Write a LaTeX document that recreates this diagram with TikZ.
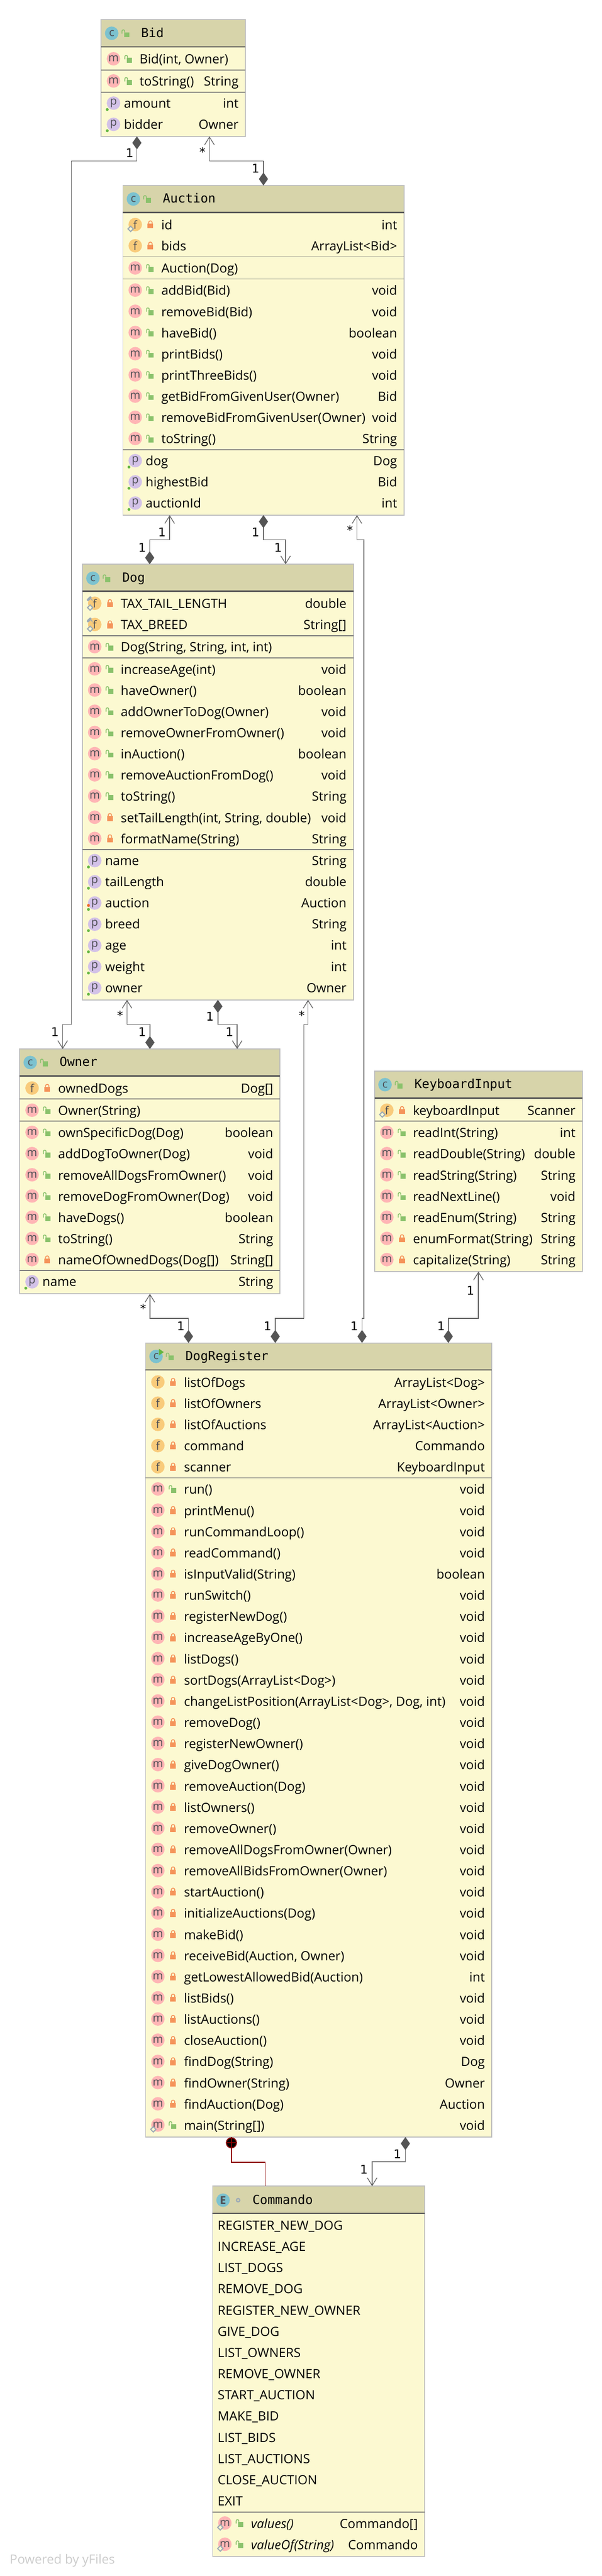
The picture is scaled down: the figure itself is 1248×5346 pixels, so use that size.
\documentclass[tikz,border=0pt]{standalone}
\usepackage{fontspec}
\usepackage{xcolor}
\usepackage{tikz}
\usetikzlibrary{arrows.meta}
\setmainfont{Open Sans}
\newfontfamily\titlefamily{DejaVu Sans Mono}
\newfontfamily\labelfamily{DejaVu Sans}
\definecolor{headfill}{RGB}{215,212,170}
\definecolor{bodyfill}{RGB}{252,249,209}
\definecolor{edgegray}{RGB}{191,191,191}
\definecolor{headrule}{RGB}{85,85,85}
\definecolor{partrule}{RGB}{120,120,120}
\definecolor{wiregray}{RGB}{102,102,102}
\definecolor{tipgray}{RGB}{85,85,85}
\definecolor{innerred}{RGB}{139,0,0}
\definecolor{iconcblue}{RGB}{124,194,207}
\definecolor{iconmpink}{RGB}{255,181,181}
\definecolor{iconfyellow}{RGB}{249,203,123}
\definecolor{iconppurple}{RGB}{211,194,232}
\definecolor{iconletter}{RGB}{78,78,84}
\definecolor{lockred}{RGB}{245,147,89}
\definecolor{lockgreen}{RGB}{138,194,108}
\definecolor{markgray}{RGB}{156,170,182}
\definecolor{dotgreen}{RGB}{98,182,64}
\definecolor{dotorange}{RGB}{242,101,34}
\definecolor{footgray}{RGB}{204,204,204}
\newcommand{\memberfont}{\fontsize{26.4}{30}\selectfont}
\newcommand{\titlefont}{\titlefamily\fontsize{26}{30}\selectfont}
\newcommand{\iconfont}{\fontsize{23}{26}\selectfont}
\newcommand{\multfont}{\labelfamily\fontsize{25}{28}\selectfont}
\newcounter{rowno}
% small marks, origin at the icon or lock centre
\newcommand{\lockpri}{\fill [lockred] (-6,-2) rectangle (6,8);
  \draw [lockred, line width=1.7pt, rounded corners=3pt] (-3.5,-1) -- (-3.5,-7.5) -- (3.5,-7.5) -- (3.5,-1);}
\newcommand{\lockpub}{\fill [lockgreen] (-3.7,-2) rectangle (7,8);
  \draw [lockgreen, line width=1.7pt, rounded corners=2.5pt] (-8,1) -- (-8,-7) -- (-2.5,-7) -- (-2.5,-2);}
\newcommand{\lockpkg}{\draw [markgray, line width=2.5pt] (2,0) circle (3.5pt);}
\newcommand{\finalmark}{\draw [markgray, line width=2.2pt, fill=bodyfill] (-9.5,3.5) -- (-4,9) -- (-9.5,14.5) -- (-15,9) -- cycle;}
\newcommand{\staticmark}{\draw [markgray, line width=5pt, line cap=round] (-14,-7) -- (-9,-12);
  \fill [markgray] (-8,-8) -- (-4,-4) -- (-6,-10) -- cycle;}
\newcommand{\greendot}{\fill [dotgreen] (-13,13.3) circle (3pt);}
\newcommand{\orangedot}{\fill [dotorange] (-13,5) circle (3pt);}
\newcommand{\runmark}{\fill [dotgreen] (6,-16) -- (16,-9) -- (6,-2) -- cycle;}
% a class: name, left, top, right, bottom, header rule
\newcommand{\classbox}[6]{
    \def\boxname{#1}\def\boxleft{#2}\def\boxright{#4}
    \pgfmathsetmacro\boxw{#4-#2}\pgfmathsetmacro\boxh{#5-#3}\pgfmathsetmacro\headh{#6-#3}
    \node [classbody, minimum width=\boxw pt, minimum height=\boxh pt] (#1) at (#2,#3) {};
    \node [classhead, minimum width=\boxw pt, minimum height=\headh pt] (#1-head) at (#2,#3) {};
    \draw [classedge] (#1.north west) rectangle (#1.south east);
    \draw [headrule] (#2,#6) -- (#4,#6);
}
\newcommand{\partrule}[1]{\draw [partrule] (\boxleft,#1) -- (\boxright,#1);}
\newcommand{\iconrow}[4][]{
    \stepcounter{rowno}
    \node [umlicon, icon#2] (\boxname-\therowno-icon) at (#3,#4) {#2};
    \begin{scope}[shift={(#3,#4)}]#1\end{scope}
}
% overlay, icon, lock, y, title
\newcommand{\classtitle}[5][]{
    \iconrow[#1]{#2}{\boxleft+21.7}{#4}
    \begin{scope}[shift={(\boxleft+51,#4)}]#3\end{scope}
    \node [classtitle] (\boxname-title) at (\boxleft+82.5,#4+8) {#5};
}
% overlay, icon, lock, y, name, type
\newcommand{\memberrow}[6][]{
    \iconrow[#1]{#2}{\boxleft+25.5}{#4}
    \begin{scope}[shift={(\boxleft+57,#4)}]#3\end{scope}
    \node [membername] (\boxname-\therowno-name) at (\boxleft+79.5,#4+10.5) {#5};
    \node [membertype] (\boxname-\therowno-type) at (\boxright-14,#4+10.5) {#6};
}
% property without lock: y, name, type
\newcommand{\proprow}[4][]{
    \iconrow[\greendot#1]{p}{\boxleft+25.5}{#2}
    \node [membername] (\boxname-\therowno-name) at (\boxleft+47,#2+9.5) {#3};
    \node [membertype] (\boxname-\therowno-type) at (\boxright-14,#2+9.5) {#4};
}
\newcommand{\enumrow}[2]{
    \stepcounter{rowno}
    \node [membername] (\boxname-\therowno-name) at (\boxleft+10.5,#1+10) {#2};
}

\begin{document}
\begin{tikzpicture}[x=1pt, y=-1pt]
    \tikzstyle{classbody} = [rectangle, anchor=north west, inner sep=0pt, outer sep=0pt, fill=bodyfill]
    \tikzstyle{classhead} = [rectangle, anchor=north west, inner sep=0pt, outer sep=0pt, fill=headfill]
    \tikzstyle{classedge} = [draw=edgegray, line width=2pt]
    \tikzstyle{headrule} = [draw=headrule, line width=2.6pt]
    \tikzstyle{partrule} = [draw=partrule, line width=2pt]
    \tikzstyle{umlicon} = [circle, minimum size=28pt, inner sep=0pt, text=iconletter, font=\iconfont]
    \tikzstyle{iconc} = [fill=iconcblue]
    \tikzstyle{iconE} = [fill=iconcblue, font=\iconfont\bfseries]
    \tikzstyle{iconm} = [fill=iconmpink]
    \tikzstyle{iconf} = [fill=iconfyellow]
    \tikzstyle{iconp} = [fill=iconppurple]
    \tikzstyle{classtitle} = [anchor=base west, inner sep=0pt, font=\titlefont]
    \tikzstyle{membername} = [anchor=base west, inner sep=0pt, font=\memberfont]
    \tikzstyle{membertype} = [anchor=base east, inner sep=0pt, font=\memberfont]
    \tikzstyle{mult} = [inner sep=0pt, font=\multfont]
    \tikzstyle{wire} = [draw=wiregray, line width=1.7pt]
    \tikzstyle{barbtodiamond} = [arrows={Straight Barb[length=16pt,width=20pt,line width=1.5pt]-Diamond[length=27pt,width=19pt,fill=tipgray,color=tipgray]}]
    \tikzstyle{diamondtobarb} = [arrows={Diamond[length=27pt,width=19pt,fill=tipgray,color=tipgray]-Straight Barb[length=16pt,width=20pt,line width=1.5pt]}]
    \tikzstyle{innerwire} = [draw=innerred, line width=1.7pt]
    \tikzstyle{innermark} = [circle, minimum size=21pt, inner sep=0pt, fill=black, draw=innerred, line width=2pt]

    \path [fill=white] (0,0) rectangle (1248,5346);
    \useasboundingbox (0,0) rectangle (1248,5346);

    % Bid
    \classbox{bid}{210}{41}{509}{283}{97}
    \classtitle{c}{\lockpub}{69}{Bid}
    \memberrow{m}{\lockpub}{122}{Bid(int, Owner)}{}
    \partrule{145}
    \memberrow{m}{\lockpub}{168}{toString()}{String}
    \partrule{191}
    \proprow{214}{amount}{int}
    \proprow{258}{bidder}{Owner}

    % Auction
    \classbox{auction}{255}{385}{838}{1069}{441}
    \classtitle{c}{\lockpub}{413}{Auction}
    \memberrow[\finalmark]{f}{\lockpri}{466}{id}{int}
    \memberrow{f}{\lockpri}{510}{bids}{ArrayList<Bid>}
    \partrule{533}
    \memberrow{m}{\lockpub}{556}{Auction(Dog)}{}
    \partrule{579}
    \memberrow{m}{\lockpub}{602}{addBid(Bid)}{void}
    \memberrow{m}{\lockpub}{646}{removeBid(Bid)}{void}
    \memberrow{m}{\lockpub}{690}{haveBid()}{boolean}
    \memberrow{m}{\lockpub}{734}{printBids()}{void}
    \memberrow{m}{\lockpub}{778}{printThreeBids()}{void}
    \memberrow{m}{\lockpub}{822}{getBidFromGivenUser(Owner)}{Bid}
    \memberrow{m}{\lockpub}{866}{removeBidFromGivenUser(Owner)}{void}
    \memberrow{m}{\lockpub}{910}{toString()}{String}
    \partrule{933}
    \proprow{956}{dog}{Dog}
    \proprow{1000}{highestBid}{Bid}
    \proprow{1044}{auctionId}{int}

    % Dog
    \classbox{dog}{171}{1171}{733}{2075}{1227}
    \classtitle{c}{\lockpub}{1200}{Dog}
    \memberrow[\finalmark\staticmark]{f}{\lockpri}{1252}{TAX\_TAIL\_LENGTH}{double}
    \memberrow[\finalmark\staticmark]{f}{\lockpri}{1296}{TAX\_BREED}{String[]}
    \partrule{1319}
    \memberrow{m}{\lockpub}{1342}{Dog(String, String, int, int)}{}
    \partrule{1365}
    \memberrow{m}{\lockpub}{1388}{increaseAge(int)}{void}
    \memberrow{m}{\lockpub}{1432}{haveOwner()}{boolean}
    \memberrow{m}{\lockpub}{1476}{addOwnerToDog(Owner)}{void}
    \memberrow{m}{\lockpub}{1520}{removeOwnerFromOwner()}{void}
    \memberrow{m}{\lockpub}{1564}{inAuction()}{boolean}
    \memberrow{m}{\lockpub}{1608}{removeAuctionFromDog()}{void}
    \memberrow{m}{\lockpub}{1652}{toString()}{String}
    \memberrow{m}{\lockpri}{1696}{setTailLength(int, String, double)}{void}
    \memberrow{m}{\lockpri}{1740}{formatName(String)}{String}
    \partrule{1763}
    \proprow{1786}{name}{String}
    \proprow{1830}{tailLength}{double}
    \proprow[\orangedot]{1874}{auction}{Auction}
    \proprow{1918}{breed}{String}
    \proprow{1962}{age}{int}
    \proprow{2006}{weight}{int}
    \proprow{2050}{owner}{Owner}

    % Owner
    \classbox{owner}{41}{2177}{581}{2685}{2233}
    \classtitle{c}{\lockpub}{2205}{Owner}
    \memberrow{f}{\lockpri}{2258}{ownedDogs}{Dog[]}
    \partrule{2281}
    \memberrow{m}{\lockpub}{2304}{Owner(String)}{}
    \partrule{2327}
    \memberrow{m}{\lockpub}{2350}{ownSpecificDog(Dog)}{boolean}
    \memberrow{m}{\lockpub}{2394}{addDogToOwner(Dog)}{void}
    \memberrow{m}{\lockpub}{2438}{removeAllDogsFromOwner()}{void}
    \memberrow{m}{\lockpub}{2482}{removeDogFromOwner(Dog)}{void}
    \memberrow{m}{\lockpub}{2526}{haveDogs()}{boolean}
    \memberrow{m}{\lockpub}{2570}{toString()}{String}
    \memberrow{m}{\lockpri}{2614}{nameOfOwnedDogs(Dog[])}{String[]}
    \partrule{2637}
    \proprow{2660}{name}{String}

    % KeyboardInput
    \classbox{keyinput}{777}{2223}{1208}{2639}{2279}
    \classtitle{c}{\lockpub}{2251}{KeyboardInput}
    \memberrow[\finalmark]{f}{\lockpri}{2304}{keyboardInput}{Scanner}
    \partrule{2327}
    \memberrow{m}{\lockpub}{2350}{readInt(String)}{int}
    \memberrow{m}{\lockpub}{2394}{readDouble(String)}{double}
    \memberrow{m}{\lockpub}{2438}{readString(String)}{String}
    \memberrow{m}{\lockpub}{2482}{readNextLine()}{void}
    \memberrow{m}{\lockpub}{2526}{readEnum(String)}{String}
    \memberrow{m}{\lockpri}{2570}{enumFormat(String)}{String}
    \memberrow{m}{\lockpri}{2614}{capitalize(String)}{String}

    % DogRegister
    \classbox{register}{302}{2787}{1020}{4435}{2843}
    \classtitle[\runmark]{c}{\lockpub}{2815}{DogRegister}
    \memberrow{f}{\lockpri}{2868}{listOfDogs}{ArrayList<Dog>}
    \memberrow{f}{\lockpri}{2912}{listOfOwners}{ArrayList<Owner>}
    \memberrow{f}{\lockpri}{2956}{listOfAuctions}{ArrayList<Auction>}
    \memberrow{f}{\lockpri}{3000}{command}{Commando}
    \memberrow{f}{\lockpri}{3044}{scanner}{KeyboardInput}
    \partrule{3067}
    \memberrow{m}{\lockpub}{3090}{run()}{void}
    \memberrow{m}{\lockpri}{3134}{printMenu()}{void}
    \memberrow{m}{\lockpri}{3178}{runCommandLoop()}{void}
    \memberrow{m}{\lockpri}{3222}{readCommand()}{void}
    \memberrow{m}{\lockpri}{3266}{isInputValid(String)}{boolean}
    \memberrow{m}{\lockpri}{3310}{runSwitch()}{void}
    \memberrow{m}{\lockpri}{3354}{registerNewDog()}{void}
    \memberrow{m}{\lockpri}{3398}{increaseAgeByOne()}{void}
    \memberrow{m}{\lockpri}{3442}{listDogs()}{void}
    \memberrow{m}{\lockpri}{3486}{sortDogs(ArrayList<Dog>)}{void}
    \memberrow{m}{\lockpri}{3530}{changeListPosition(ArrayList<Dog>, Dog, int)}{void}
    \memberrow{m}{\lockpri}{3574}{removeDog()}{void}
    \memberrow{m}{\lockpri}{3618}{registerNewOwner()}{void}
    \memberrow{m}{\lockpri}{3662}{giveDogOwner()}{void}
    \memberrow{m}{\lockpri}{3706}{removeAuction(Dog)}{void}
    \memberrow{m}{\lockpri}{3750}{listOwners()}{void}
    \memberrow{m}{\lockpri}{3794}{removeOwner()}{void}
    \memberrow{m}{\lockpri}{3838}{removeAllDogsFromOwner(Owner)}{void}
    \memberrow{m}{\lockpri}{3882}{removeAllBidsFromOwner(Owner)}{void}
    \memberrow{m}{\lockpri}{3926}{startAuction()}{void}
    \memberrow{m}{\lockpri}{3970}{initializeAuctions(Dog)}{void}
    \memberrow{m}{\lockpri}{4014}{makeBid()}{void}
    \memberrow{m}{\lockpri}{4058}{receiveBid(Auction, Owner)}{void}
    \memberrow{m}{\lockpri}{4102}{getLowestAllowedBid(Auction)}{int}
    \memberrow{m}{\lockpri}{4146}{listBids()}{void}
    \memberrow{m}{\lockpri}{4190}{listAuctions()}{void}
    \memberrow{m}{\lockpri}{4234}{closeAuction()}{void}
    \memberrow{m}{\lockpri}{4278}{findDog(String)}{Dog}
    \memberrow{m}{\lockpri}{4322}{findOwner(String)}{Owner}
    \memberrow{m}{\lockpri}{4366}{findAuction(Dog)}{Auction}
    \memberrow[\finalmark]{m}{\lockpub}{4410}{main(String[])}{void}

    % Commando
    \classbox{commando}{441}{4537}{881}{5305}{4593}
    \classtitle{E}{\lockpkg}{4566}{Commando}
    \enumrow{4618}{REGISTER\_NEW\_DOG}
    \enumrow{4662}{INCREASE\_AGE}
    \enumrow{4706}{LIST\_DOGS}
    \enumrow{4750}{REMOVE\_DOG}
    \enumrow{4794}{REGISTER\_NEW\_OWNER}
    \enumrow{4838}{GIVE\_DOG}
    \enumrow{4882}{LIST\_OWNERS}
    \enumrow{4926}{REMOVE\_OWNER}
    \enumrow{4970}{START\_AUCTION}
    \enumrow{5014}{MAKE\_BID}
    \enumrow{5058}{LIST\_BIDS}
    \enumrow{5102}{LIST\_AUCTIONS}
    \enumrow{5146}{CLOSE\_AUCTION}
    \enumrow{5190}{EXIT}
    \partrule{5213}
    \memberrow[\finalmark]{m}{\lockpub}{5236}{\itshape values()}{Commando[]}
    \memberrow[\finalmark]{m}{\lockpub}{5280}{\itshape valueOf(String)}{Commando}

    % Bends
    \coordinate (bidowner) at (148,2126);
    \coordinate (auctionreg) at (755,2736);
    \coordinate (dogreg) at (630.5,2736);

    % Connections
    \draw [wire, diamondtobarb] ([xshift=-75.5pt]bid.south) -- ++(0,51) -| (bidowner) -| ([xshift=-181pt]owner.north);
    \draw [wire, barbtodiamond] ([xshift=75pt]bid.south) -- ++(0,51) -| (auction.north);

    \draw [wire, barbtodiamond] ([xshift=-194.5pt]auction.south) -- ++(0,51) -| ([xshift=-141.5pt]dog.north);
    \draw [wire, diamondtobarb] (auction.south) -- ++(0,51) -| ([xshift=140.5pt]dog.north);
    \draw [wire, barbtodiamond] ([xshift=194pt]auction.south) -- ++(0,51) -| (auctionreg) -| ([xshift=90pt]register.north);

    \draw [wire, barbtodiamond] ([xshift=-188.5pt]dog.south) -- ++(0,51) -| (owner.north);
    \draw [wire, diamondtobarb] (dog.south) -- ++(0,51) -| ([xshift=181pt]owner.north);
    \draw [wire, barbtodiamond] ([xshift=187pt]dog.south) -- ++(0,51) -| (dogreg) -| ([xshift=-90pt]register.north);

    \draw [wire, barbtodiamond] (owner.south) -- ++(0,51) -| ([xshift=-270pt]register.north);
    \draw [wire, barbtodiamond] (keyinput.south) -- ++(0,97) -| ([xshift=269pt]register.north);

    \draw [wire, diamondtobarb] ([xshift=180pt]register.south) -- ++(0,51.5) -| ([xshift=111pt]commando.north);

    \node [innermark] (inner) at (480,4447) {};
    \draw [draw=innerred, line width=1.6pt] (inner.north) -- (inner.south) (inner.west) -- (inner.east);
    \draw [innerwire] (inner.south) -- ++(0,29) -| ([xshift=-111pt]commando.north);

    % Multiplicities
    \node [mult] (m1) at (269,318) {1};
    \node [mult] (m2) at (420,315) {*};
    \node [mult] (m3) at (530,350) {1};
    \node [mult] (m4) at (336,1104) {1};
    \node [mult] (m5) at (295,1136) {1};
    \node [mult] (m6) at (530,1104) {1};
    \node [mult] (m7) at (577,1136) {1};
    \node [mult] (m8) at (726,1100) {*};
    \node [mult] (m9) at (114,2142) {1};
    \node [mult] (m10) at (249,2107) {*};
    \node [mult] (m11) at (295,2142) {1};
    \node [mult] (m12) at (435.5,2110) {1};
    \node [mult] (m13) at (476,2142) {1};
    \node [mult] (m14) at (626,2107) {*};
    \node [mult] (m15) at (297,2716) {*};
    \node [mult] (m16) at (375,2752.5) {1};
    \node [mult] (m17) at (555,2752.5) {1};
    \node [mult] (m18) at (735,2752.5) {1};
    \node [mult] (m19) at (915,2752.5) {1};
    \node [mult] (m20) at (976,2678.5) {1};
    \node [mult] (m21) at (824.5,4470.5) {1};
    \node [mult] (m22) at (755,4502.5) {1};

    \node [anchor=west, inner sep=0pt, text=footgray, font=\memberfont] (poweredby) at (20,5314) {Powered by yFiles};
\end{tikzpicture}
\end{document}
